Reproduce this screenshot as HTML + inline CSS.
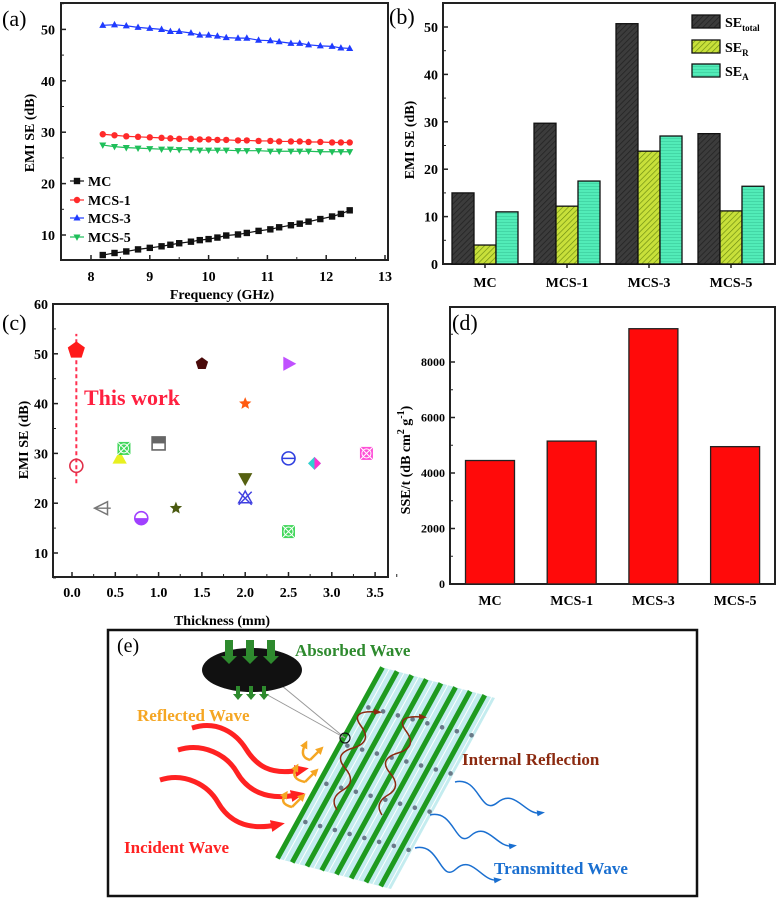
<!DOCTYPE html>
<html><head><meta charset="utf-8">
<style>
html,body{margin:0;padding:0;background:#fff;}
svg{display:block;font-family:"Liberation Serif",serif;font-weight:bold;}
</style></head>
<body>
<svg id="fig" width="779" height="900" viewBox="0 0 779 900" xmlns="http://www.w3.org/2000/svg">
<defs>
  <pattern id="hatchDark" width="4" height="4" patternUnits="userSpaceOnUse" patternTransform="rotate(45)">
    <rect width="4" height="4" fill="#3c3c3c"/><line x1="0" y1="0" x2="0" y2="4" stroke="#222" stroke-width="1.5"/>
  </pattern>
  <pattern id="hatchYel" width="4" height="4" patternUnits="userSpaceOnUse" patternTransform="rotate(45)">
    <rect width="4" height="4" fill="#c8e03a"/><line x1="0" y1="0" x2="0" y2="4" stroke="#6a8a10" stroke-width="1.3"/>
  </pattern>
  <pattern id="hatchAqua" width="4" height="3" patternUnits="userSpaceOnUse">
    <rect width="4" height="3" fill="#52ecb8"/><line x1="0" y1="0" x2="4" y2="0" stroke="#2cb88a" stroke-width="0.8"/>
  </pattern>
  <marker id="arrR" markerUnits="userSpaceOnUse" markerWidth="14" markerHeight="14" refX="5" refY="7" orient="auto"><path d="M0,1 L14,7 L0,13 Z" fill="#ff2020"/></marker>
  <marker id="arrO" markerUnits="userSpaceOnUse" markerWidth="8" markerHeight="8" refX="3" refY="4" orient="auto"><path d="M0,0 L8,4 L0,8 Z" fill="#f5a623"/></marker>
  <marker id="arrB" markerUnits="userSpaceOnUse" markerWidth="8" markerHeight="8" refX="3" refY="4" orient="auto"><path d="M0,1 L8,4 L0,7 Z" fill="#1a6fd0"/></marker>
  <marker id="arrBr" markerUnits="userSpaceOnUse" markerWidth="8" markerHeight="8" refX="3" refY="4" orient="auto"><path d="M0,1 L8,4 L0,7 Z" fill="#8b2a10"/></marker>
</defs>
<g id="pa"></g>
<g id="pb"></g>
<g id="pc"></g>
<g id="pd"></g>
<g id="pe"></g>
</svg>
<script>
// ---------- Panel (a) data ----------
const freqA = [8.2,8.4,8.6,8.8,9.0,9.2,9.35,9.5,9.7,9.85,10.0,10.15,10.3,10.5,10.65,10.85,11.05,11.2,11.4,11.55,11.7,11.9,12.1,12.25,12.4];
const seMC = [6.1,6.5,6.8,7.2,7.5,7.8,8.1,8.4,8.7,9.0,9.2,9.5,9.9,10.1,10.4,10.8,11.1,11.5,11.9,12.2,12.6,13.1,13.6,14.1,14.8];
const seMCS1 = [29.6,29.4,29.2,29.1,29.0,28.9,28.8,28.7,28.7,28.6,28.6,28.5,28.5,28.4,28.4,28.3,28.3,28.2,28.2,28.2,28.1,28.1,28.0,28.0,28.0];
const seMCS3 = [50.8,50.9,50.7,50.4,50.2,50.0,49.6,49.6,49.3,48.9,48.9,48.7,48.4,48.3,48.3,47.9,47.8,47.6,47.3,47.3,47.0,46.8,46.7,46.4,46.3];
const seMCS5 = [27.5,27.2,27.0,26.9,26.8,26.7,26.7,26.6,26.6,26.5,26.5,26.5,26.5,26.4,26.4,26.4,26.3,26.3,26.3,26.3,26.3,26.2,26.2,26.2,26.2];
const xTicksA = [8,9,10,11,12,13];
const yTicksA = [10,20,30,40,50];
// ---------- Panel (b) data ----------
const catsB = ["MC","MCS-1","MCS-3","MCS-5"];
const seTotal = [15.0,29.7,50.7,27.5];
const seR = [4.0,12.2,23.8,11.2];
const seA = [11.0,17.5,27.0,16.4];
const yTicksB = [0,10,20,30,40,50];
// ---------- Panel (c) data ----------
const thick = [0.05,0.05,0.35,0.55,0.6,0.8,1.0,1.2,1.5,2.0,2.0,2.0,2.5,2.5,2.5,2.8,3.4];
const seC = [50.7,27.5,19,29,31,17,32,19,48,40,25,21,48,29,14.3,28,30];
const shapesC = ["pent","ocirc","ltri","tri","sqx","halfc","halfs","star","pent","star","dtri","xstar","rtri","circl","sqx","diam","sqx"];
const colorsC = ["#ff1a1a","#e0304a","#777","#e8f020","#22d040","#a040ff","#666","#4a5a10","#4a0a0a","#ff5a10","#556010","#4040e0","#c050ff","#3040e0","#22d040","#30d0d0","#ff30d0"];
const xTicksC = [0,0.5,1,1.5,2,2.5,3,3.5];
const yTicksC = [10,20,30,40,50,60];
// ---------- Panel (d) data ----------
const catsD = ["MC","MCS-1","MCS-3","MCS-5"];
const sseT = [4450,5150,9200,4950];
const yTicksD = [0,2000,4000,6000,8000];

const NS = "http://www.w3.org/2000/svg";
function mk(parent, tag, attrs, text){
  const e = document.createElementNS(NS, tag);
  for (const k in attrs) e.setAttribute(k, attrs[k]);
  if (text !== undefined) e.textContent = text;
  parent.appendChild(e);
  return e;
}
function frame(g, x0, y0, x1, y1){
  const r = mk(g,'rect',{x:x0,y:y0,width:x1-x0,height:y1-y0,fill:'none',stroke:'#222','stroke-width':2});
  
  
}
function marker(g, shape, x, y, s, col){
  let e;
  const p = (pts)=>mk(g,'polygon',{points:pts.map(q=>q.join(',')).join(' '),fill:col});
  if (shape==='sq'){ e = mk(g,'rect',{x:x-s,y:y-s,width:2*s,height:2*s,fill:col}); }
  else if (shape==='circ'){ e = mk(g,'circle',{cx:x,cy:y,r:s,fill:col}); }
  else if (shape==='tri'){ e = p([[x,y-s*1.2],[x-s*1.1,y+s*0.8],[x+s*1.1,y+s*0.8]]); }
  else if (shape==='dtri'){ e = p([[x,y+s*1.2],[x-s*1.1,y-s*0.8],[x+s*1.1,y-s*0.8]]); }
  else if (shape==='rtri'){ e = p([[x+s*1.2,y],[x-s*0.8,y-s*1.1],[x-s*0.8,y+s*1.1]]); }
  else if (shape==='ltri'){ e = mk(g,'polygon',{points:`${x-s*1.2},${y} ${x+s*0.8},${y-s} ${x+s*0.8},${y+s}`,fill:'none',stroke:col,'stroke-width':1.5}); mk(g,'line',{x1:x-s*1.2,y1:y,x2:x+s*1.3,y2:y,stroke:col,'stroke-width':1.3}); }
  else if (shape==='pent'){ const pts=[]; for(let i=0;i<5;i++){const a=-Math.PI/2+i*2*Math.PI/5; pts.push([x+s*Math.cos(a),y+s*Math.sin(a)]);} e=p(pts); }
  else if (shape==='star'){ const pts=[]; for(let i=0;i<10;i++){const a=-Math.PI/2+i*Math.PI/5; const r=i%2?s*0.45:s; pts.push([x+r*Math.cos(a),y+r*Math.sin(a)]);} e=p(pts); }
  else if (shape==='ocirc'){ e = mk(g,'circle',{cx:x,cy:y,r:s,fill:'none',stroke:col,'stroke-width':1.6}); }
  else if (shape==='circl'){ e = mk(g,'circle',{cx:x,cy:y,r:s,fill:'none',stroke:col,'stroke-width':1.6}); mk(g,'line',{x1:x-s,y1:y,x2:x+s,y2:y,stroke:col,'stroke-width':1.5}); }
  else if (shape==='halfc'){ e = mk(g,'circle',{cx:x,cy:y,r:s,fill:'#fff',stroke:col,'stroke-width':1.6}); mk(g,'path',{d:`M${x-s},${y} A${s},${s} 0 0 0 ${x+s},${y} Z`,fill:col}); }
  else if (shape==='halfs'){ e = mk(g,'rect',{x:x-s,y:y-s,width:2*s,height:2*s,fill:'#fff',stroke:col,'stroke-width':1.6}); mk(g,'rect',{x:x-s,y:y-s,width:2*s,height:s,fill:col}); }
  else if (shape==='sqx'){ e = mk(g,'rect',{x:x-s,y:y-s,width:2*s,height:2*s,fill:col,opacity:0.85}); mk(g,'circle',{cx:x,cy:y,r:s*0.7,fill:'none',stroke:'#fff','stroke-width':1}); mk(g,'path',{d:`M${x-s},${y-s}L${x+s},${y+s}M${x+s},${y-s}L${x-s},${y+s}`,stroke:'#fff','stroke-width':1}); }
  else if (shape==='xstar'){ e = mk(g,'path',{d:`M${x-s},${y-s}L${x+s},${y+s}M${x+s},${y-s}L${x-s},${y+s}M${x},${y-s*1.1}L${x-s},${y+s*0.7}L${x+s},${y+s*0.7}Z`,stroke:col,'stroke-width':1.5,fill:'none'}); }
  else if (shape==='diam'){ e = p([[x,y-s],[x+s,y],[x,y+s],[x-s,y]]); e.setAttribute('fill','#30d0d0'); mk(g,'polygon',{points:`${x},${y-s} ${x+s},${y} ${x},${y+s}`,fill:'#ff30d0'}); }
  return e;
}

// ===== Panel (a) =====
(function(){
  const g = document.getElementById('pa');
  const X = v => 91 + (v-8)*58.8;
  const Y = v => 235 - (v-10)*5.14;
  frame(g, 61, 3, 388, 260);
  xTicksA.forEach(t=>{
    mk(g,'line',{x1:X(t),y1:260,x2:X(t),y2:255,stroke:'#222','stroke-width':1.5});
    if (t<13){ mk(g,'line',{x1:X(t+0.5),y1:260,x2:X(t+0.5),y2:257,stroke:'#222','stroke-width':1}); }
    const l = mk(g,'text',{x:X(t),y:281,'font-size':14,'text-anchor':'middle'},String(t));
     
  });
  yTicksA.forEach(t=>{
    mk(g,'line',{x1:61,y1:Y(t),x2:66,y2:Y(t),stroke:'#222','stroke-width':1.5});
    mk(g,'line',{x1:61,y1:Y(t+5),x2:64,y2:Y(t+5),stroke:'#222','stroke-width':1});
    const l = mk(g,'text',{x:55,y:Y(t)+5,'font-size':14,'text-anchor':'end'},String(t));
     
  });
  const xt = mk(g,'text',{x:222,y:299,'font-size':14,'text-anchor':'middle'},'Frequency (GHz)');
   
  const yt = mk(g,'text',{x:0,y:0,'font-size':14,'text-anchor':'middle',transform:'translate(34,133) rotate(-90)'},'EMI SE (dB)');
   
  const pl = mk(g,'text',{x:2,y:26,'font-size':22,'font-weight':'normal'},'(a)');
   
  const series = [[seMCS3,'#1f3bff','tri','series-mcs-3'],[seMCS1,'#ff2a2a','circ','series-mcs-1'],[seMCS5,'#1fbf5a','dtri','series-mcs-5'],[seMC,'#111','sq','series-mc']];
  series.forEach(([arr,col,sh,name])=>{
    const sg = mk(g,'g',{});
     
    mk(sg,'polyline',{points:arr.map((v,i)=>`${X(freqA[i])},${Y(v)}`).join(' '),fill:'none',stroke:col,'stroke-width':1.2});
    arr.forEach((v,i)=>{ marker(sg, sh, X(freqA[i]), Y(v), 3.2, col); });
  });
  const leg = [['MC','#111','sq',181],['MCS-1','#ff2a2a','circ',200],['MCS-3','#1f3bff','tri',218],['MCS-5','#1fbf5a','dtri',237]];
  leg.forEach(([lab,col,sh,y])=>{
    const lg = mk(g,'g',{});
     
    mk(lg,'line',{x1:70,y1:y,x2:84,y2:y,stroke:col,'stroke-width':1.2});
    marker(lg, sh, 77, y, 3.2, col);
    mk(lg,'text',{x:88,y:y+5,'font-size':14},lab);
  });
})();

// ===== Panel (b) =====
(function(){
  const g = document.getElementById('pb');
  const Y = v => 264 - v*4.74;
  const CX = i => 485 + i*82;
  frame(g, 443, 3, 775, 264);
  yTicksB.forEach(t=>{
    mk(g,'line',{x1:443,y1:Y(t),x2:448,y2:Y(t),stroke:'#222','stroke-width':1.5});
    if (t<50) mk(g,'line',{x1:443,y1:Y(t+5),x2:446,y2:Y(t+5),stroke:'#222','stroke-width':1});
    const l = mk(g,'text',{x:438,y:Y(t)+5,'font-size':14,'text-anchor':'end'},String(t));
     
  });
  catsB.forEach((c,i)=>{
    mk(g,'line',{x1:CX(i),y1:264,x2:CX(i),y2:268,stroke:'#222','stroke-width':1.5});
    const l = mk(g,'text',{x:CX(i),y:287,'font-size':14,'text-anchor':'middle'},c);
     
    const defs = [[seTotal,'url(#hatchDark)',-33,'bar-se-total'],[seR,'url(#hatchYel)',-11,'bar-se-r'],[seA,'url(#hatchAqua)',11,'bar-se-a']];
    defs.forEach(([arr,fill,off,name])=>{
      const r = mk(g,'rect',{x:CX(i)+off,y:Y(arr[i]),width:22,height:Y(0)-Y(arr[i]),fill:fill,stroke:'#111','stroke-width':1.3});
       
    });
  });
  const yt = mk(g,'text',{x:0,y:0,'font-size':14,'text-anchor':'middle',transform:'translate(414,140) rotate(-90)'},'EMI SE (dB)');
   
  const pl = mk(g,'text',{x:389,y:24,'font-size':22,'font-weight':'normal'},'(b)');
   
  const leg = [['url(#hatchDark)',15,'SE','total'],['url(#hatchYel)',40,'SE','R'],['url(#hatchAqua)',64,'SE','A']];
  leg.forEach(([f,y,a,sub])=>{
    const lg = mk(g,'g',{});
     
    mk(lg,'rect',{x:692,y:y,width:28,height:13,fill:f,stroke:'#111','stroke-width':1.3});
    const t = mk(lg,'text',{x:725,y:y+12,'font-size':14},a);
    const ts = document.createElementNS(NS,'tspan'); ts.setAttribute('font-size','9'); ts.setAttribute('dy','4'); ts.textContent = sub; t.appendChild(ts);
  });
})();

// ===== Panel (c) =====
(function(){
  const g = document.getElementById('pc');
  const X = v => 72 + v*86.6;
  const Y = v => 553 - (v-10)*4.98;
  frame(g, 53, 304, 388, 577);
  xTicksC.forEach(t=>{
    mk(g,'line',{x1:X(t),y1:577,x2:X(t),y2:572,stroke:'#222','stroke-width':1.5});
    mk(g,'line',{x1:X(t+0.25),y1:577,x2:X(t+0.25),y2:574,stroke:'#222','stroke-width':1});
    const l = mk(g,'text',{x:X(t),y:597,'font-size':14,'text-anchor':'middle'},t.toFixed(1));
     
  });
  yTicksC.forEach(t=>{
    mk(g,'line',{x1:53,y1:Y(t),x2:58,y2:Y(t),stroke:'#222','stroke-width':1.5});
    mk(g,'line',{x1:53,y1:Y(t-5),x2:56,y2:Y(t-5),stroke:'#222','stroke-width':1});
    const l = mk(g,'text',{x:48,y:Y(t)+5,'font-size':14,'text-anchor':'end'},String(t));
     
  });
  const xt = mk(g,'text',{x:222,y:625,'font-size':14,'text-anchor':'middle'},'Thickness (mm)');
   
  const yt = mk(g,'text',{x:0,y:0,'font-size':14,'text-anchor':'middle',transform:'translate(28,440) rotate(-90)'},'EMI SE (dB)');
   
  const pl = mk(g,'text',{x:2,y:330,'font-size':22,'font-weight':'normal'},'(c)');
   
  const dl = mk(g,'line',{x1:X(thick[0]),y1:Y(24),x2:X(thick[0]),y2:Y(54),stroke:'#ff3050','stroke-width':2,'stroke-dasharray':'4,3'});
   
  const tw = mk(g,'text',{x:84,y:405,'font-size':22,fill:'#ff2040'},'This work');
   
  thick.forEach((t,i)=>{
    const s = i===0 ? 9 : 6.5;
    const m = marker(g, shapesC[i], X(t), Y(seC[i]), s, colorsC[i]);
    
    
  });
})();

// ===== Panel (d) =====
(function(){
  const g = document.getElementById('pd');
  const Y = v => 584 - v*222/8000;
  const CX = i => 490 + i*81.7;
  frame(g, 450, 307, 775, 584);
  yTicksD.forEach(t=>{
    mk(g,'line',{x1:450,y1:Y(t),x2:455,y2:Y(t),stroke:'#222','stroke-width':1.5});
    mk(g,'line',{x1:450,y1:Y(t+1000),x2:453,y2:Y(t+1000),stroke:'#222','stroke-width':1});
    const l = mk(g,'text',{x:445,y:Y(t)+4,'font-size':12,'text-anchor':'end'},String(t));
     
  });
  catsD.forEach((c,i)=>{
    const r = mk(g,'rect',{x:CX(i)-24.5,y:Y(sseT[i]),width:49,height:Y(0)-Y(sseT[i]),fill:'#ff0a0a',stroke:'#222','stroke-width':1.3});
     
    const l = mk(g,'text',{x:CX(i),y:605,'font-size':14,'text-anchor':'middle'},c);
     
  });
  const yt = mk(g,'text',{x:0,y:0,'font-size':14,'text-anchor':'middle',transform:'translate(410,460) rotate(-90)'});
   
  yt.appendChild(document.createTextNode('SSE/t (dB cm'));
  let ts = document.createElementNS(NS,'tspan'); ts.setAttribute('dy','-6'); ts.setAttribute('font-size','10'); ts.textContent='2'; yt.appendChild(ts);
  ts = document.createElementNS(NS,'tspan'); ts.setAttribute('dy','6'); ts.textContent=' g'; yt.appendChild(ts);
  ts = document.createElementNS(NS,'tspan'); ts.setAttribute('dy','-6'); ts.setAttribute('font-size','10'); ts.textContent='-1'; yt.appendChild(ts);
  ts = document.createElementNS(NS,'tspan'); ts.setAttribute('dy','6'); ts.textContent=')'; yt.appendChild(ts);
  const pl = mk(g,'text',{x:452,y:330,'font-size':22,'font-weight':'normal'},'(d)');
   
})();

// ===== Panel (e) schematic =====
(function(){
  const g = document.getElementById('pe');
  const box = mk(g,'rect',{x:108,y:630,width:589,height:266,fill:'#fff',stroke:'#111','stroke-width':2.5});
   
  mk(g,'text',{x:117,y:652,'font-size':20,'font-weight':'normal'},'(e)');
  const BL=[276,858], TL=[381,667], TR=[495,698], BR=[391,889];
  const slab = mk(g,'polygon',{points:[BL,TL,TR,BR].map(p=>p.join(',')).join(' '),fill:'#c4ecef'});
   
  const n=8;
  for(let k=0;k<n;k++){
    const f=(k+0.1)/(n-0.2);
    const x0=BL[0]+(BR[0]-BL[0])*f, y0=BL[1]+(BR[1]-BL[1])*f;
    const x1=TL[0]+(TR[0]-TL[0])*f, y1=TL[1]+(TR[1]-TL[1])*f;
    mk(g,'line',{x1:x0,y1:y0,x2:x1,y2:y1,stroke:'#1e9a1e','stroke-width':5});
    const f2=f+0.06;
    if(f2<1){
      mk(g,'line',{x1:BL[0]+(BR[0]-BL[0])*f2,y1:BL[1]+(BR[1]-BL[1])*f2,x2:TL[0]+(TR[0]-TL[0])*f2,y2:TL[1]+(TR[1]-TL[1])*f2,stroke:'#fff','stroke-width':1});
      for(let j=1;j<5;j++){
        const u=j/5;
        mk(g,'circle',{cx:BL[0]+(BR[0]-BL[0])*f2+(TL[0]-BL[0])*u,cy:BL[1]+(BR[1]-BL[1])*f2+(TL[1]-BL[1])*u,r:2.3,fill:'#6a7a88'});
      }
    }
  }
  mk(g,'line',{x1:270,y1:676,x2:345,y2:738,stroke:'#999','stroke-width':1});
  mk(g,'line',{x1:255,y1:688,x2:345,y2:738,stroke:'#999','stroke-width':1});
  mk(g,'circle',{cx:345,cy:738,r:5,fill:'none',stroke:'#111','stroke-width':1.2});
  const el = mk(g,'ellipse',{cx:252,cy:670,rx:50,ry:22,fill:'#111'});
   
  [229,250,271].forEach(x=>{ mk(g,'rect',{x:x-4,y:640,width:8,height:16,fill:'#2e8a2e'}); mk(g,'polygon',{points:`${x-8},656 ${x+8},656 ${x},664`,fill:'#2e8a2e'}); });
  [238,251,264].forEach(x=>{ mk(g,'rect',{x:x-2,y:686,width:4,height:10,fill:'#2e8a2e'}); mk(g,'polygon',{points:`${x-5},694 ${x+5},694 ${x},700`,fill:'#2e8a2e'}); });
  [[192,728,300,770],[178,750,296,795],[160,780,276,825]].forEach(([x0,y0,x1,y1])=>{
    const mx=(x0+x1)/2;
    mk(g,'path',{d:`M${x0},${y0} C${x0+25},${y0-8} ${mx-10},${y0+5} ${mx},${(y0+y1)/2} S${x1-30},${y1+6} ${x1},${y1}`,fill:'none',stroke:'#ff2222','stroke-width':5,'marker-end':'url(#arrR)'});
  });
  [[310,760,305,745],[305,782,296,768],[292,807,285,795]].forEach(([x0,y0,x1,y1])=>{
    mk(g,'path',{d:`M${x0},${y0} Q${x1-6},${y0-3} ${x1},${y1}`,fill:'none',stroke:'#f5a623','stroke-width':2.5,'marker-end':'url(#arrO)'});
    mk(g,'path',{d:`M${x0},${y0} Q${x0+6},${y0-6} ${x0+10},${y0-10}`,fill:'none',stroke:'#f5a623','stroke-width':2.5,'marker-end':'url(#arrO)'});
  });
  mk(g,'path',{d:'M337,810 q-8,-12 6,-20 t2,-22 t8,-20 t8,-22 t16,-14',fill:'none',stroke:'#8b2a10','stroke-width':1.5,'marker-end':'url(#arrBr)'});
  mk(g,'path',{d:'M382,815 q-8,-12 6,-20 t2,-22 t8,-20 t8,-22 t16,-14',fill:'none',stroke:'#8b2a10','stroke-width':1.5,'marker-end':'url(#arrBr)'});
  [[455,782,540,813],[430,815,512,846],[415,848,497,880]].forEach(([x0,y0,x1,y1])=>{
    mk(g,'path',{d:`M${x0},${y0} C${x0+25},${y0-6} ${x0+25},${y1+4} ${(x0+x1)/2},${(y0+y1)/2+5} S${x1-15},${y1+2} ${x1},${y1}`,fill:'none',stroke:'#1a6fd0','stroke-width':1.5,'marker-end':'url(#arrB)'});
  });
  const labs=[['Absorbed Wave',295,656,'#2e8a2e','label-absorbed-wave'],['Reflected Wave',137,721,'#f5a623','label-reflected-wave'],['Internal Reflection',462,765,'#8b2a10','label-internal-reflection'],['Incident Wave',124,853,'#ff2222','label-incident-wave'],['Transmitted Wave',494,874,'#1a6fd0','label-transmitted-wave']];
  labs.forEach(([t,x,y,c,n])=>{
    const e = mk(g,'text',{x:x,y:y,'font-size':17,fill:c},t);
     
  });
})();
</script>
</body></html>
